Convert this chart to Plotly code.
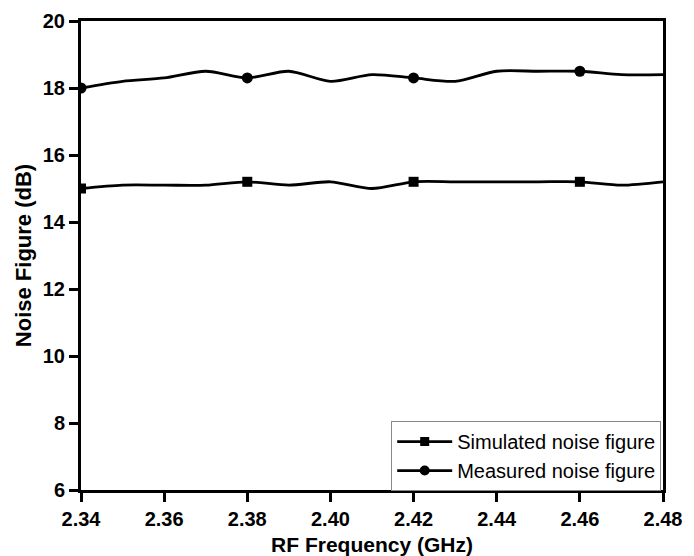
import plotly.graph_objects as go

freq = [2.34, 2.35, 2.36, 2.37, 2.38, 2.39, 2.40, 2.41, 2.42, 2.43, 2.44, 2.45, 2.46, 2.47, 2.48]
simulated = [15.0, 15.1, 15.1, 15.1, 15.2, 15.1, 15.2, 15.0, 15.2, 15.2, 15.2, 15.2, 15.2, 15.1, 15.2]
measured = [18.0, 18.2, 18.3, 18.5, 18.3, 18.5, 18.2, 18.4, 18.3, 18.2, 18.5, 18.5, 18.5, 18.4, 18.4]
marker_idx = [0, 4, 8, 12]
x_ticks = [2.34, 2.36, 2.38, 2.40, 2.42, 2.44, 2.46, 2.48]
x_tick_labels = ["2.34", "2.36", "2.38", "2.40", "2.42", "2.44", "2.46", "2.48"]
y_ticks = [6, 8, 10, 12, 14, 16, 18, 20]

FONT = "Liberation Sans Narrow, Arial Narrow, Liberation Sans, Arial, sans-serif"
LW = 2.8

fig = go.Figure()
series = [
    ("Simulated noise figure", simulated, "square", 10),
    ("Measured noise figure", measured, "circle", 11),
]
for name, ys, sym, size in series:
    fig.add_trace(go.Scatter(x=freq, y=ys, mode="lines",
                             line=dict(color="black", width=LW, shape="spline", smoothing=0.8),
                             showlegend=False, hoverinfo="skip"))
    fig.add_trace(go.Scatter(x=[freq[i] for i in marker_idx], y=[ys[i] for i in marker_idx],
                             mode="markers", marker=dict(symbol=sym, size=size, color="black"),
                             showlegend=False))
    fig.add_trace(go.Scatter(x=[None], y=[None], mode="lines+markers", name=name,
                             line=dict(color="black", width=LW),
                             marker=dict(symbol=sym, size=size - 1, color="black")))

axis_common = dict(showline=True, linecolor="black", linewidth=3, mirror=True,
                   ticks="outside", ticklen=9, tickwidth=2.5, tickcolor="black",
                   showgrid=False, zeroline=False, ticklabeloverflow="allow",
                   automargin=False,
                   tickfont=dict(family=FONT, size=20, color="black", weight="bold"))

fig.update_layout(
    width=686, height=548,
    margin=dict(l=73, r=31, t=13, b=66, autoexpand=False),
    plot_bgcolor="white", paper_bgcolor="white",
    xaxis=dict(range=[2.34, 2.48], tickvals=x_ticks, ticktext=x_tick_labels,
               title=dict(text="RF Frequency (GHz)", standoff=11,
                          font=dict(family=FONT, size=21, color="black", weight="bold")),
               **axis_common),
    yaxis=dict(range=[6, 20], tickvals=y_ticks,
               title=dict(text="Noise Figure (dB)", standoff=6,
                          font=dict(family=FONT, size=22, color="black", weight="bold")),
               **axis_common),
    legend=dict(x=0.533, y=0.147, xanchor="left", yanchor="top",
                bgcolor="white", bordercolor="#888888", borderwidth=1,
                font=dict(family=FONT, size=20, color="black"),
                itemwidth=55, tracegroupgap=0),
)

fig.write_html("out.html")
